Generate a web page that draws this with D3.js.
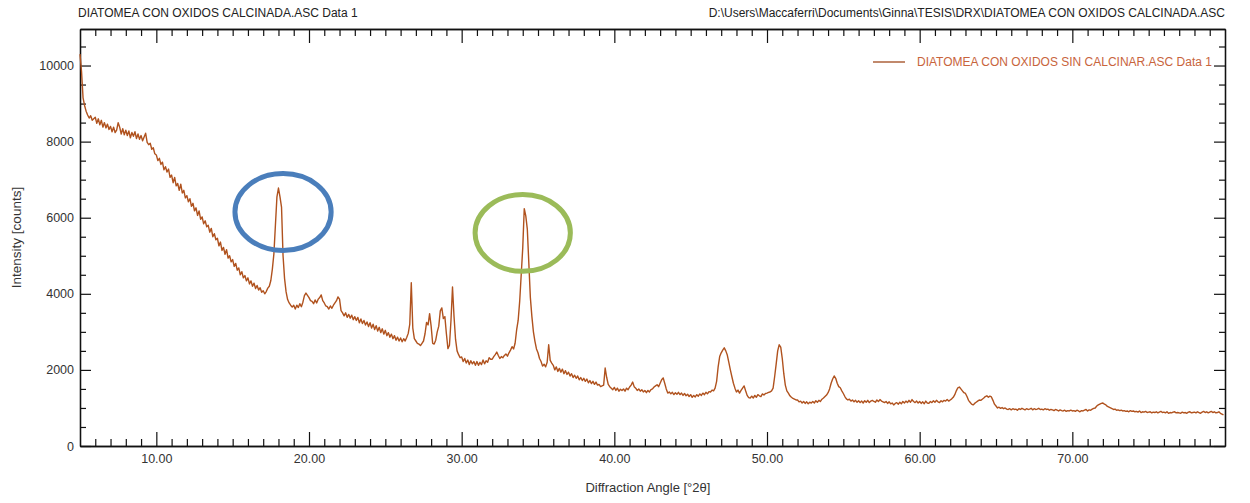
<!DOCTYPE html>
<html>
<head>
<meta charset="utf-8">
<script src="https://cdn.jsdelivr.net/npm/d3@7"></script>
<style>
  body { margin: 0; background: #fff; }
  svg { display: block; font-family: "Liberation Sans", Arial, sans-serif; }
</style>
</head>
<body>
<div id="container"></div>
<script>
// scan settings (as in the .ASC file)
const angleStart = 5;
const angleStep = 0.1;

// counts, one row per degree (x.0 .. x.9)
const counts = [
  10300, 9850, 9150, 8950, 8800, 8700, 8620, 8680, 8560, 8600,
  8640, 8480, 8600, 8440, 8560, 8380, 8500, 8360, 8460, 8320,
  8400, 8260, 8380, 8240, 8300, 8500, 8380, 8200, 8340, 8180,
  8300, 8160, 8280, 8100, 8240, 8140, 8260, 8080, 8200, 8060,
  8160, 8020, 8120, 8220, 7980, 7920, 7960, 7800, 7840, 7680,
  7650, 7500, 7560, 7400, 7460, 7260, 7340, 7200, 7280, 7060,
  7120, 6920, 7060, 6840, 6900, 6720, 6880, 6650, 6720, 6520,
  6580, 6420, 6500, 6300, 6380, 6180, 6260, 6060, 6180, 5960,
  6020, 5840, 5920, 5760, 5800, 5620, 5720, 5500, 5580, 5420,
  5460, 5260, 5360, 5140, 5220, 5040, 5160, 4940, 5000, 4840,
  4900, 4720, 4800, 4620, 4680, 4500, 4580, 4420, 4480, 4340,
  4420, 4260, 4340, 4200, 4280, 4140, 4220, 4100, 4160, 4040,
  4080, 4000, 4060, 4150, 4200, 4350, 4650, 5050, 5800, 6550,
  6780, 6550, 6280, 5000, 4400, 4050, 3850, 3760, 3700, 3650,
  3700, 3600, 3700, 3640, 3740, 3660, 3780, 3950, 4020, 3960,
  3900, 3820, 3800, 3740, 3840, 3760, 3860, 3900, 3970, 3820,
  3760, 3680, 3660, 3600, 3680, 3620, 3700, 3760, 3820, 3920,
  3860, 3560, 3500, 3420, 3500, 3380, 3460, 3360, 3440, 3320,
  3400, 3300, 3380, 3240, 3340, 3220, 3300, 3180, 3260, 3140,
  3240, 3100, 3200, 3060, 3160, 3020, 3120, 2980, 3080, 2940,
  3040, 2900, 2980, 2860, 2940, 2820, 2900, 2780, 2860, 2760,
  2840, 2740, 2820, 2760, 2850, 2960, 3200, 4290, 3100, 2820,
  2760, 2700, 2680, 2640, 2700, 2760, 2950, 3250, 3180, 3480,
  3150, 2700, 2680, 2780, 3000, 3150, 3550, 3630, 3350, 3400,
  2950, 2560, 2650, 3300, 4180, 3400, 2800, 2500, 2400, 2320,
  2340, 2220, 2300, 2180, 2260, 2140, 2240, 2160, 2220, 2120,
  2220, 2120, 2200, 2140, 2260, 2160, 2240, 2200, 2320, 2280,
  2280, 2350, 2400, 2470, 2380, 2300, 2350, 2320, 2380, 2420,
  2360, 2450, 2520, 2610, 2550, 2700, 3050, 3300, 3800, 4500,
  5200, 6240, 6050, 5700, 4800, 3900, 3400, 3000, 2750, 2550,
  2450, 2300, 2220, 2100, 2150, 2080, 2200, 2660, 2250, 2180,
  2120, 2000, 2080, 1960, 2040, 1940, 2020, 1900, 1980, 1880,
  1940, 1840, 1900, 1800, 1860, 1780, 1840, 1740, 1800, 1720,
  1780, 1700, 1760, 1660, 1720, 1640, 1700, 1620, 1680, 1600,
  1620, 1560, 1580, 1600, 2050, 1800, 1620, 1560, 1520, 1480,
  1540, 1460, 1520, 1440, 1490, 1460, 1500, 1440, 1520, 1480,
  1550, 1600, 1680, 1560, 1520, 1460, 1500, 1440, 1480, 1420,
  1460, 1400, 1460, 1420, 1480, 1500, 1550, 1580, 1610, 1560,
  1650, 1740, 1790, 1650, 1500, 1390, 1420, 1370, 1410, 1350,
  1400, 1360, 1410, 1350, 1390, 1330, 1380, 1320, 1360, 1300,
  1350, 1280, 1330, 1290, 1350, 1310, 1370, 1330, 1390, 1350,
  1410, 1370, 1430, 1420, 1470, 1450, 1520, 1700, 2080, 2350,
  2450, 2520, 2580, 2500, 2390, 2200, 2000, 1820, 1650, 1520,
  1420, 1470, 1390, 1460, 1520, 1580, 1450, 1330, 1270, 1260,
  1310, 1260, 1330, 1280, 1350, 1320, 1300, 1370, 1340, 1380,
  1390, 1410, 1420, 1450, 1520, 1820, 2150, 2500, 2660, 2600,
  2300, 1900, 1600, 1450, 1390, 1320, 1280, 1250, 1230, 1210,
  1210, 1160, 1180, 1130, 1170, 1120, 1160, 1110, 1150, 1130,
  1170, 1130, 1190, 1150, 1200, 1170, 1230, 1260, 1300, 1340,
  1400, 1500, 1650, 1760, 1840, 1780, 1650, 1560, 1530, 1450,
  1380, 1300, 1240, 1210, 1230, 1180, 1210, 1160, 1200, 1150,
  1190, 1140, 1180, 1130, 1190, 1150, 1200, 1140, 1180, 1200,
  1170, 1150, 1210, 1170, 1220, 1180, 1160, 1140, 1170, 1120,
  1160, 1110, 1130, 1080, 1120, 1140, 1100, 1150, 1110, 1170,
  1130, 1180, 1140, 1200, 1150, 1220, 1170, 1140, 1180, 1130,
  1170, 1120, 1160, 1110, 1180, 1130, 1120, 1170, 1140, 1190,
  1150, 1200, 1160, 1140, 1190, 1160, 1200, 1180, 1220, 1180,
  1210, 1240, 1280, 1350, 1450, 1530, 1550, 1500, 1450, 1400,
  1380, 1300, 1200, 1150, 1100, 1080, 1120, 1150, 1180, 1210,
  1200, 1230, 1260, 1300, 1320, 1280, 1310, 1290, 1200, 1100,
  1050, 1000, 1020, 990, 1010, 980, 1000, 970, 960, 980,
  950, 980, 960, 970, 940, 980, 960, 990, 970, 950,
  980, 960, 970, 990, 950, 980, 960, 970, 990, 960,
  970, 950, 980, 960, 970, 940, 960, 950, 930, 960,
  940, 920, 950, 930, 920, 940, 910, 930, 920, 940,
  920, 930, 910, 940, 920, 900, 930, 920, 940, 960,
  920, 950, 940, 970, 990, 1000, 1050, 1080, 1100, 1120,
  1130, 1100, 1080, 1040, 1020, 1000, 980, 960, 970, 940,
  950, 930, 940, 920, 930, 910, 920, 900, 930, 910,
  920, 900, 910, 890, 920, 880, 900, 890, 910, 880,
  890, 900, 870, 890, 880, 900, 870, 890, 910, 880,
  890, 870, 900, 860, 880, 870, 890, 900, 870, 880,
  870, 860, 890, 870, 880, 860, 890, 900, 870, 880,
  890, 870, 900, 880, 860, 890, 910, 880, 900, 870,
  890, 910, 880, 900, 870, 880, 900, 860, 840, 820
];

const xMajorTicks = [10, 20, 30, 40, 50, 60, 70];
const yMajorTicks = [0, 2000, 4000, 6000, 8000, 10000];

const leftTitle = "DIATOMEA CON OXIDOS CALCINADA.ASC Data 1";
const rightTitle = "D:\\Users\\Maccaferri\\Documents\\Ginna\\TESIS\\DRX\\DIATOMEA CON OXIDOS CALCINADA.ASC";
const seriesName = "DIATOMEA CON OXIDOS SIN CALCINAR.ASC Data 1";

// hand-drawn ellipses marking the two peaks (centre and half-axes in data units)
const marks = [
  { angle: 18.3, value: 6150, dAngle: 3.15, dValue: 1010, color: "#4a7ebb" },
  { angle: 34.0, value: 5600, dAngle: 3.12, dValue: 1010, color: "#9bbb59" }
];

const width = 1250;
const height = 503;
const margin = { top: 29, right: 25, bottom: 57, left: 80 };
const plotW = width - margin.left - margin.right;
const plotH = height - margin.top - margin.bottom;

const data = counts.map((c, i) => ({ angle: angleStart + i * angleStep, counts: c }));

const svg = d3.select("#container")
  .append("svg")
  .attr("width", width)
  .attr("height", height);

const x = d3.scaleLinear().domain([5, 80]).range([0, plotW]);
const y = d3.scaleLinear().domain([0, 10960]).range([plotH, 0]);

const g = svg.append("g").attr("transform", `translate(${margin.left},${margin.top})`);

const minorX = d3.range(6, 80).filter(v => v % 10 !== 0);
const minorY = d3.range(500, 10960, 500).filter(v => v % 2000 !== 0);

function styleAxis(sel) {
  sel.selectAll("path").attr("stroke", "#111").attr("stroke-width", 1.3);
  sel.selectAll("line").attr("stroke", "#111").attr("stroke-width", 1.2);
  sel.selectAll("text").attr("fill", "#333").style("font-size", "12.5px")
    .style("font-family", "Liberation Sans, Arial, sans-serif");
}

// bottom axis: minor + major ticks pointing inward
g.append("g")
  .attr("transform", `translate(0,${plotH})`)
  .call(d3.axisBottom(x).tickValues(minorX).tickSizeInner(-7).tickSizeOuter(0).tickFormat(""))
  .call(styleAxis);
g.append("g")
  .attr("transform", `translate(0,${plotH})`)
  .call(d3.axisBottom(x).tickValues(xMajorTicks).tickSizeInner(-14).tickSizeOuter(0)
    .tickPadding(8).tickFormat(d3.format(".2f")))
  .call(styleAxis);

// top axis
g.append("g")
  .call(d3.axisTop(x).tickValues(minorX).tickSizeInner(-7).tickSizeOuter(0).tickFormat(""))
  .call(styleAxis);
g.append("g")
  .call(d3.axisTop(x).tickValues(xMajorTicks).tickSizeInner(-14).tickSizeOuter(0).tickFormat(""))
  .call(styleAxis);

// left axis
g.append("g")
  .call(d3.axisLeft(y).tickValues(minorY).tickSizeInner(-6).tickSizeOuter(0).tickFormat(""))
  .call(styleAxis);
g.append("g")
  .call(d3.axisLeft(y).tickValues(yMajorTicks).tickSizeInner(-11).tickSizeOuter(0)
    .tickPadding(6).tickFormat(d3.format("d")))
  .call(styleAxis);

// right axis
g.append("g")
  .attr("transform", `translate(${plotW},0)`)
  .call(d3.axisRight(y).tickValues(minorY).tickSizeInner(-6).tickSizeOuter(0).tickFormat(""))
  .call(styleAxis);
g.append("g")
  .attr("transform", `translate(${plotW},0)`)
  .call(d3.axisRight(y).tickValues(yMajorTicks).tickSizeInner(-11).tickSizeOuter(0).tickFormat(""))
  .call(styleAxis);

// the diffraction pattern
const line = d3.line()
  .x(d => x(d.angle))
  .y(d => y(d.counts));

g.append("path")
  .datum(data)
  .attr("fill", "none")
  .attr("stroke", "#b0521e")
  .attr("stroke-width", 1.4)
  .attr("stroke-linejoin", "round")
  .attr("d", line);

// peak markers
g.selectAll("ellipse.mark")
  .data(marks)
  .enter()
  .append("ellipse")
  .attr("class", "mark")
  .attr("cx", d => x(d.angle))
  .attr("cy", d => y(d.value))
  .attr("rx", d => x(d.angle + d.dAngle) - x(d.angle))
  .attr("ry", d => y(d.value - d.dValue) - y(d.value))
  .attr("fill", "none")
  .attr("stroke", d => d.color)
  .attr("stroke-width", 5);

// legend
const legend = g.append("g").attr("transform", `translate(${plotW - 352}, 33)`);
legend.append("line")
  .attr("x1", 0).attr("x2", 32).attr("y1", 0).attr("y2", 0)
  .attr("stroke", "#a0491c").attr("stroke-width", 1.3);
legend.append("text")
  .attr("x", 44).attr("y", 4)
  .attr("fill", "#c8643c")
  .style("font-size", "12px")
  .text(seriesName);

// titles
svg.append("text")
  .attr("x", margin.left - 2).attr("y", 17)
  .attr("fill", "#222").style("font-size", "12px")
  .text(leftTitle);

svg.append("text")
  .attr("x", width - margin.right).attr("y", 17)
  .attr("text-anchor", "end")
  .attr("fill", "#222").style("font-size", "12px")
  .text(rightTitle);

svg.append("text")
  .attr("x", margin.left + x(42.2))
  .attr("y", height - 11)
  .attr("text-anchor", "middle")
  .attr("fill", "#333").style("font-size", "13px")
  .text("Diffraction Angle [°2θ]");

svg.append("text")
  .attr("transform", `translate(21, ${margin.top + plotH / 2}) rotate(-90)`)
  .attr("text-anchor", "middle")
  .attr("fill", "#333").style("font-size", "13.5px")
  .text("Intensity [counts]");
</script>
</body>
</html>
